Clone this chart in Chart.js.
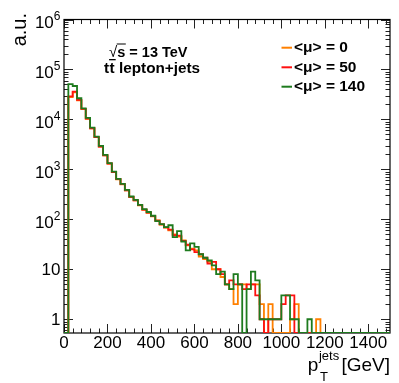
<!DOCTYPE html>
<html><head><meta charset="utf-8">
<script src="https://cdn.jsdelivr.net/npm/chart.js@4/dist/chart.umd.min.js"></script>
<style>html,body{margin:0;padding:0;background:#fff}canvas{display:block}</style>
</head><body>
<canvas id="c" width="399" height="383"></canvas>
<script>
// ---- data (20 GeV bins, lower edges) ----
const binLow = [0,20,40,60,80,100,120,140,160,180,200,220,240,260,280,300,320,340,360,380,
400,420,440,460,480,500,520,540,560,580,600,620,640,660,680,700,720,740,760,780,
800,820,840,860,880,900,920,940,960,980,1000,1020,1040,1060,1080,1100,1120,1140,1160,1180,
1200,1220,1240,1260,1280,1300,1320,1340,1360,1380,1400,1420,1440,1460,1480];
const binHigh = 1500;
const mu0 = [0,28000,35000,24000,16000,10300,6600,4400,2850,1900,1300,880,630,500,380,280,240,190,155,135,
115,95,78,68,60,50,45,38,30,26,24,18,16,14,10,10,7,5,4,2,
5,5,4,5,5,2,0,2,0,0,0,0,1,2,0,0,0,0,1,0,
0,0,0,0,0,0,0,0,0,0,0,0,0,0,0];
const mu50 = [0,29000,36000,24500,16200,10400,6650,4420,2870,1910,1310,885,635,505,382,282,240,192,157,136,
116,94,79,69,62,48,47,37,31,25,22,20,17,13,14,10,8,5,6,5,
5,4,5,5,3,1,0,1,1,1,2,3,3,0,0,0,0,0,0,0,
0,0,0,0,0,0,0,0,0,0,0,0,0,0,0];
const mu140 = [0,51000,46600,26500,16700,10700,6850,4530,2950,1950,1330,904,646,513,389,286,245,195,160,140,
118,92,80,70,76,44,58,36,24,33,28,20,17,15,12,8,9,5,4,8,
5,0,4,9,6,1,1,1,1,1,3,3,1,1,0,0,1,0,0,0,
0,0,0,0,0,0,0,0,0,0,0,0,0,0,0];
const seriesNames = ['<\u03bc> = 0','<\u03bc> = 50','<\u03bc> = 140'];
const seriesColors = ['#ff8000','#ff1010','#1e7b1e'];
const xTicks = [0,200,400,600,800,1000,1200,1400];
const yTickExps = [0,1,2,3,4,5,6];
const xTitle = ['p','T','jets','[GeV]'];
const yTitle = 'a.u.';
const note1 = ['\u221a','s = 13 TeV'];
const note2 = ['t','t',' lepton+jets'];
const Y_MIN = 0.53, Y_MAX = 1e6;

function toPts(vals){
  // empty bins are drawn on the lower frame edge, as in ROOT
  const p = binLow.map((x,i)=>({x:x,y:vals[i] > 0 ? vals[i] : Y_MIN}));
  const last = vals[vals.length-1];
  p.push({x:binHigh,y:last > 0 ? last : Y_MIN});
  return p;
}
const allSeries=[mu0,mu50,mu140];

const frame = {
  id:'frame',
  beforeDatasetsDraw(chart){
    const {ctx,chartArea:a,scales:{x,y}} = chart;
    ctx.save();
    ctx.strokeStyle='#222'; ctx.lineWidth=1;
    ctx.beginPath();
    for(let v=0; v<1500; v+=40){
      const px=Math.round(x.getPixelForValue(v))+0.5;
      const L = (v%200===0)?9:4.5;
      ctx.moveTo(px,a.bottom); ctx.lineTo(px,a.bottom-L);
      ctx.moveTo(px,a.top); ctx.lineTo(px,a.top+L);
    }
    for(let e=-1;e<=5;e++){
      for(let m=1;m<=9;m++){
        const v=m*Math.pow(10,e);
        if(v<y.min||v>y.max) continue;
        const py=Math.round(y.getPixelForValue(v))+0.5;
        const L=(m===1)?9:4.5;
        ctx.moveTo(a.left,py); ctx.lineTo(a.left+L,py);
        ctx.moveTo(a.right,py); ctx.lineTo(a.right-L,py);
      }
    }
    const py6=Math.round(y.getPixelForValue(1e6))+0.5;
    ctx.moveTo(a.left,py6); ctx.lineTo(a.left+9,py6);
    ctx.moveTo(a.right,py6); ctx.lineTo(a.right-9,py6);
    ctx.stroke();
    ctx.strokeStyle='#000'; ctx.lineWidth=1.2;
    ctx.strokeRect(a.left,a.top,a.right-a.left,a.bottom-a.top);
    ctx.restore();
  },
  afterDraw(chart){
    const {ctx,chartArea:a,scales:{x,y}} = chart;
    ctx.save();
    ctx.fillStyle='#000';
    // x tick labels
    ctx.font='17px "Liberation Sans", Arial, sans-serif';
    ctx.textAlign='center'; ctx.textBaseline='middle';
    xTicks.forEach(v=>{ ctx.fillText(String(v), x.getPixelForValue(v), 343.5); });
    // y tick labels
    const rx=60.5;
    yTickExps.forEach(e=>{
      const py=y.getPixelForValue(Math.pow(10,e));
      ctx.textAlign='right';
      if(e===0){ ctx.font='17px "Liberation Sans", Arial, sans-serif'; ctx.fillText('1',rx,py+1); }
      else if(e===1){ ctx.font='17px "Liberation Sans", Arial, sans-serif'; ctx.fillText('10',rx,py+1); }
      else {
        ctx.font='12px "Liberation Sans", Arial, sans-serif';
        const ew=ctx.measureText(String(e)).width;
        ctx.fillText(String(e),rx,py-3);
        ctx.font='17px "Liberation Sans", Arial, sans-serif';
        ctx.fillText('10',rx-ew,py+3.5);
      }
    });
    // axis titles
    ctx.textBaseline='alphabetic';
    ctx.font='19px "Liberation Sans", Arial, sans-serif';
    ctx.textAlign='right';
    ctx.fillText(xTitle[3],390,370.5);
    const gw=ctx.measureText(xTitle[3]+' ').width;
    ctx.font='13px "Liberation Sans", Arial, sans-serif';
    const jw=ctx.measureText(xTitle[2]).width;
    const jx=390-gw-jw+3;
    ctx.textAlign='left';
    ctx.fillText(xTitle[2],jx,360);
    ctx.fillText(xTitle[1],jx+1,381);
    ctx.font='19px "Liberation Sans", Arial, sans-serif';
    ctx.textAlign='right';
    ctx.fillText(xTitle[0],jx-0.5,370.5);
    // y title
    ctx.save();
    ctx.translate(25.5,13);
    ctx.rotate(-Math.PI/2);
    ctx.font='20px "Liberation Sans", Arial, sans-serif';
    ctx.textAlign='right';
    ctx.fillText(yTitle,0,0);
    ctx.restore();
    // annotations
    ctx.textAlign='left';
    ctx.font='15px "Liberation Sans", Arial, sans-serif';
    ctx.fillText(note1[0],109,57);
    const rw=ctx.measureText(note1[0]).width;
    ctx.font='bold 14.5px "Liberation Sans", Arial, sans-serif';
    const sx=109+rw;
    ctx.fillText(note1[1],sx,57);
    const sw=ctx.measureText('s').width;
    ctx.fillRect(sx-0.5,43.5,sw+1,1);
    ctx.font='bold 15.3px "Liberation Sans", Arial, sans-serif';
    let tx=104;
    ctx.fillText(note2[0],tx,73);
    tx+=ctx.measureText(note2[0]).width+0.5;
    const t2w=ctx.measureText(note2[1]).width;
    ctx.fillText(note2[1],tx,73);
    ctx.fillRect(tx-0.5,59,t2w+1.5,1.3);
    tx+=t2w;
    ctx.fillText(note2[2],tx,73);
    // legend
    ctx.font='bold 15.5px "Liberation Sans", Arial, sans-serif';
    const ly=[47.7,67.3,86.7];
    seriesNames.forEach((n,i)=>{
      ctx.strokeStyle=seriesColors[i]; ctx.lineWidth=2;
      ctx.beginPath(); ctx.moveTo(281.5,ly[i]); ctx.lineTo(292,ly[i]); ctx.stroke();
      ctx.textBaseline='middle';
      ctx.fillText(n,294,ly[i]+0.5);
    });
    ctx.restore();
  }
};

new Chart(document.getElementById('c'),{
  type:'line',
  data:{datasets: allSeries.map((s,i)=>({
    label:seriesNames[i], data:toPts(s), borderColor:seriesColors[i],
    borderWidth:1.8, stepped:'before', pointRadius:0, fill:false, order:3-i
  }))},
  options:{
    responsive:false, animation:false, devicePixelRatio:1,
    layout:{padding:{left:64,right:9,top:19.5,bottom:50}},
    scales:{
      x:{type:'linear',min:0,max:1500,display:false},
      y:{type:'logarithmic',min:Y_MIN,max:Y_MAX,display:false}
    },
    plugins:{legend:{display:false},tooltip:{enabled:false}}
  },
  plugins:[frame]
});
</script>
</body></html>
